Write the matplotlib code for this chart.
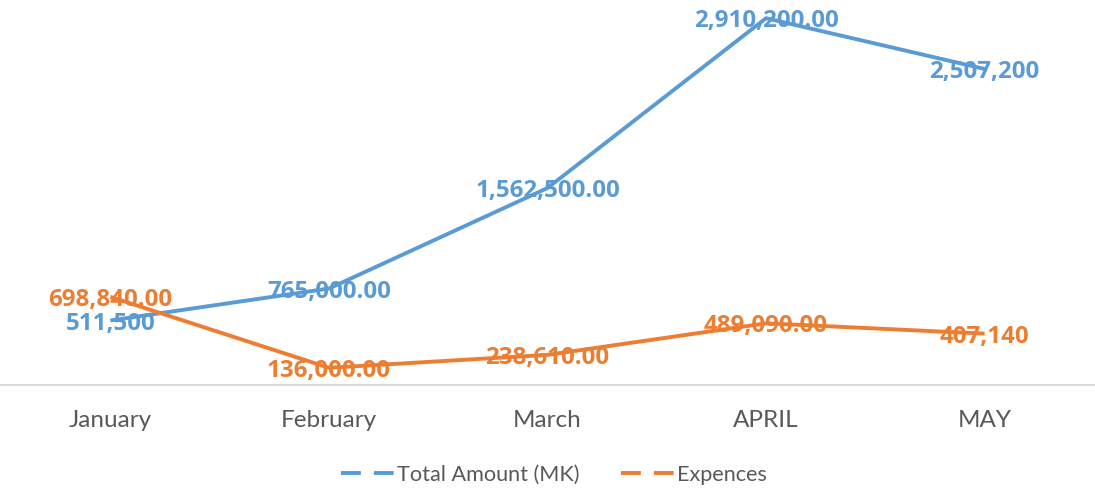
import matplotlib
matplotlib.use("Agg")
import matplotlib.pyplot as plt
from matplotlib.lines import Line2D

months = ["January", "February", "March", "APRIL", "MAY"]
total_amount = [511500, 765000, 1562500, 2910200, 2507200]
expences = [698840, 136000, 238610, 489090, 407140]
total_labels = ["511,500", "765,000.00", "1,562,500.00", "2,910,200.00", "2,507,200"]
exp_labels = ["698,840.00", "136,000.00", "238,610.00", "489,090.00", "407,140"]

BLUE = "#5B9BD5"
ORANGE = "#ED7D31"
GRAY = "#595959"

plt.rcParams['font.family'] = ['Lato', 'DejaVu Sans']
LABEL_FONT = ['Open Sans', 'DejaVu Sans']

fig = plt.figure(figsize=(10.95, 4.91), dpi=100)
ax = fig.add_axes([0.0, 0.216, 1.0, 0.77])

x = list(range(len(months)))
ax.plot(x, total_amount, color=BLUE, lw=2.8, solid_capstyle='butt', zorder=2)
ax.plot(x, expences, color=ORANGE, lw=2.8, solid_capstyle='butt', zorder=2)

for xi, v, t in zip(x, total_amount, total_labels):
    ax.annotate(t, (xi, v), xytext=(0, -2.2), textcoords='offset points',
                color=BLUE, ha='center', va='center', fontsize=17.4,
                fontweight='bold', family=LABEL_FONT, zorder=3)
for xi, v, t in zip(x, expences, exp_labels):
    ax.annotate(t, (xi, v), xytext=(0, -2.2), textcoords='offset points',
                color=ORANGE, ha='center', va='center', fontsize=17.4,
                fontweight='bold', family=LABEL_FONT, zorder=3)

ax.set_xlim(-0.505, 4.505)
ax.set_ylim(0, 3000000)
for s in ['top', 'right', 'left']:
    ax.spines[s].set_visible(False)
ax.spines['bottom'].set_color("#D9D9D9")
ax.spines['bottom'].set_linewidth(1.5)
ax.set_yticks([])
ax.set_xticks(x)
ax.set_xticklabels(months, fontsize=17.5, color=GRAY)
ax.tick_params(axis='x', length=0, pad=18)

handles = [Line2D([], [], color=BLUE, lw=2.8, dashes=(5.1, 3.35)),
           Line2D([], [], color=ORANGE, lw=2.8, dashes=(5.1, 3.35))]
leg = fig.legend(handles, ["Total Amount (MK)", "Expences"], loc='center',
                 bbox_to_anchor=(0.506, 0.033), ncol=2, frameon=False,
                 fontsize=15.6, labelcolor=GRAY, handlelength=2.5,
                 handletextpad=0.1, columnspacing=1.9)

fig.savefig("out.png", dpi=100)
